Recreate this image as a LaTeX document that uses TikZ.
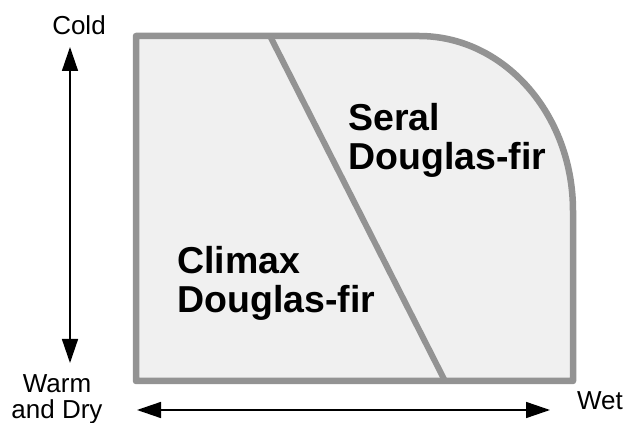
\documentclass[tikz,border=0pt]{standalone}
\usepackage{fontspec}
\setmainfont{Liberation Sans}
\usetikzlibrary{arrows.meta}
\definecolor{zoneedge}{HTML}{939393}
\definecolor{zonefill}{HTML}{F0F0F0}
\tikzset{
  zone/.style={draw=zoneedge, fill=zonefill, line width=6.5pt, line join=round},
  divider/.style={draw=zoneedge, line width=6pt},
  axis/.style={line width=1.5pt, {Triangle[length=24pt,width=16pt]}-{Triangle[length=24pt,width=16pt]}},
  axislabel/.style={font=\fontsize{26}{26}\selectfont, inner sep=0pt, align=center},
  zonelabel/.style={font=\bfseries\fontsize{37.5}{39}\selectfont, inner sep=0pt, align=left, anchor=north west}
}
\begin{document}
\begin{tikzpicture}[x=1pt,y=1pt]
  \useasboundingbox (0,0) rectangle (624,423);
  % habitat zone outline with rounded cold-wet corner
  \path[zone] (136,42) -- (136,387) -- (419,387)
    arc[start angle=90, end angle=0, x radius=154, y radius=175]
    -- (573,42) -- cycle;
  % boundary between climax and seral zones
  \coordinate (dtop) at (270,387);
  \coordinate (dbot) at (445,42);
  \draw[divider] (dtop) -- (dbot);
  % zone labels
  \node[zonelabel] (seral) at (348,320) {Seral\\Douglas-fir};
  \node[zonelabel] (climax) at (177,177) {Climax\\Douglas-fir};
  % temperature axis
  \node[axislabel] (cold) at (79,398) {Cold};
  \node[axislabel, anchor=north] (warm) at (57,49) {Warm\\and Dry};
  \coordinate (vtop) at (70,376);
  \coordinate (vbot) at (70,60);
  \draw[axis] (vtop) -- (vbot);
  % moisture axis
  \node[axislabel] (wet) at (600,22) {Wet};
  \coordinate (hleft) at (137,13);
  \coordinate (hright) at (550,13);
  \draw[axis] (hleft) -- (hright);
\end{tikzpicture}
\end{document}
